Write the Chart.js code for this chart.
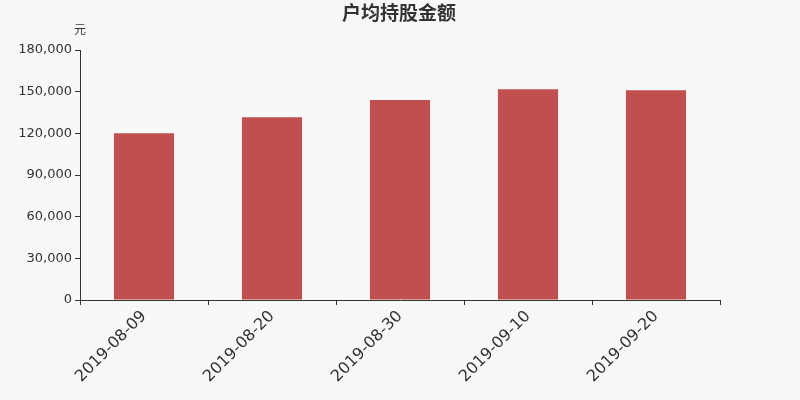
<!DOCTYPE html>
<html lang="zh">
<head>
    <meta charset="UTF-8">
    <title>户均持股金额</title>
    <script src="https://cdn.jsdelivr.net/npm/chart.js@4.4.0/dist/chart.umd.min.js"></script>
    <style>
        html, body {
            margin: 0;
            padding: 0;
            background: #f8f8f8;
        }

        .chart-box {
            width: 800px;
            height: 400px;
        }
    </style>
</head>
<body>
    <div class="chart-box">
        <canvas id="chart"></canvas>
    </div>

    <script>
        // data
        const dates = ['2019-08-09', '2019-08-20', '2019-08-30', '2019-09-10', '2019-09-20'];
        const avgHolding = [120100, 131600, 144000, 151800, 151000];
        const chartTitle = '户均持股金额';
        const unitLabel = '元';

        // title and unit drawn on the canvas
        const textPlugin = {
            id: 'textPlugin',
            afterDraw(chart) {
                const ctx = chart.ctx;
                ctx.save();
                ctx.fillStyle = '#333';
                ctx.textAlign = 'center';
                ctx.textBaseline = 'middle';
                ctx.font = 'bold 19px "Noto Sans CJK SC", sans-serif';
                ctx.fillText(chartTitle, 399, 13);
                ctx.font = '12px "Noto Sans CJK SC", sans-serif';
                ctx.fillText(unitLabel, 80, 29);
                ctx.restore();
            }
        };

        new Chart(document.getElementById('chart'), {
            type: 'bar',
            data: {
                labels: dates,
                datasets: [{
                    data: avgHolding,
                    backgroundColor: '#c0504d',
                    barPercentage: 0.47,
                    categoryPercentage: 1.0,
                }],
            },
            options: {
                responsive: true,
                maintainAspectRatio: false,
                animation: false,
                layout: {
                    padding: { top: 50, right: 80, left: 0, bottom: 0 }
                },
                plugins: {
                    legend: { display: false },
                    tooltip: { enabled: false },
                },
                scales: {
                    x: {
                        offset: true,
                        afterFit(scale) { scale.height = 100; },
                        border: { color: '#333', width: 1 },
                        grid: {
                            offset: true,
                            drawOnChartArea: false,
                            drawTicks: true,
                            tickLength: 5,
                            color: '#333',
                        },
                        ticks: {
                            minRotation: 45,
                            maxRotation: 45,
                            color: '#333',
                            padding: 2,
                            font: { family: 'DejaVu Sans', size: 16 },
                        },
                    },
                    y: {
                        min: 0,
                        max: 180000,
                        afterFit(scale) { scale.width = 80; },
                        border: { color: '#333', width: 1 },
                        grid: {
                            drawOnChartArea: false,
                            drawTicks: true,
                            tickLength: 5,
                            color: '#333',
                        },
                        ticks: {
                            stepSize: 30000,
                            color: '#333',
                            padding: 3,
                            font: { family: 'DejaVu Sans', size: 13 },
                            callback: (v) => v.toLocaleString('en-US'),
                        },
                    },
                },
            },
            plugins: [textPlugin],
        });
    </script>
</body>
</html>
